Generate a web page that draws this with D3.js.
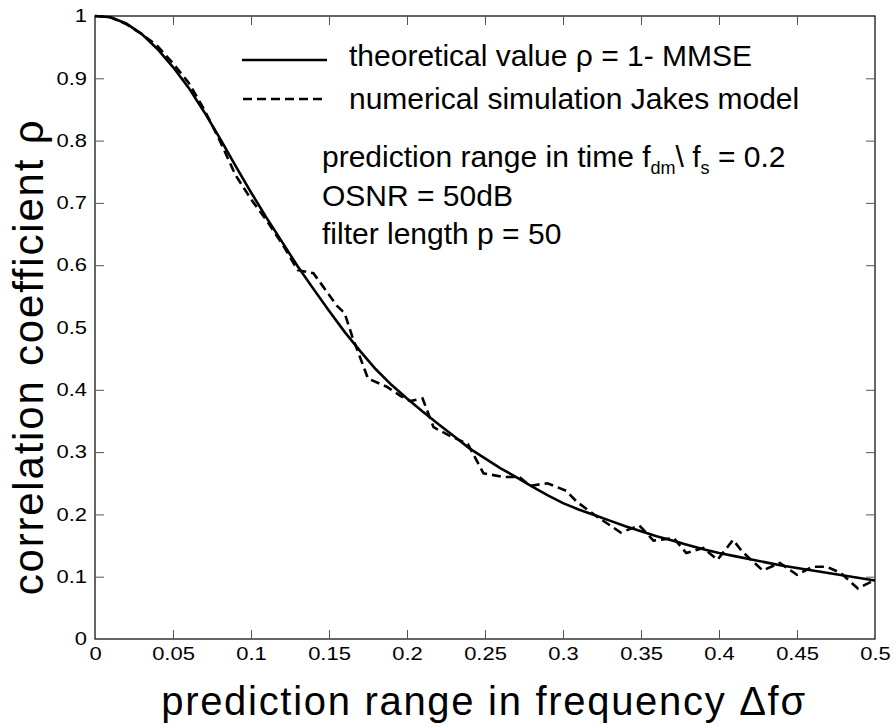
<!DOCTYPE html>
<html>
<head>
<meta charset="utf-8">
<script src="https://cdn.jsdelivr.net/npm/d3@7"></script>
<style>
  html, body { margin: 0; padding: 0; background: #fff; }
  svg { display: block; font-family: "Liberation Sans", Arial, Helvetica, sans-serif; }
</style>
</head>
<body>
<svg id="chart" width="896" height="727"></svg>
<script>
// ---- data ----
const theoryX = [0, 0.01, 0.02, 0.03, 0.04, 0.05, 0.06, 0.07, 0.08, 0.09, 0.1, 0.11, 0.12, 0.13, 0.14, 0.15, 0.16, 0.17, 0.18, 0.19, 0.2, 0.21, 0.22, 0.23, 0.24, 0.25, 0.26, 0.27, 0.28, 0.29, 0.3, 0.31, 0.32, 0.33, 0.34, 0.35, 0.36, 0.37, 0.38, 0.39, 0.4, 0.41, 0.42, 0.43, 0.44, 0.45, 0.46, 0.47, 0.48, 0.49, 0.5];
const theoryY = [1.0, 0.998, 0.988, 0.971, 0.947, 0.918, 0.885, 0.846, 0.804, 0.76, 0.717, 0.676, 0.637, 0.598, 0.562, 0.527, 0.493, 0.462, 0.433, 0.408, 0.386, 0.365, 0.345, 0.326, 0.306, 0.29, 0.274, 0.26, 0.245, 0.231, 0.218, 0.208, 0.199, 0.19, 0.181, 0.173, 0.165, 0.158, 0.151, 0.144, 0.138, 0.133, 0.128, 0.123, 0.118, 0.114, 0.11, 0.106, 0.102, 0.098, 0.094];

const simX = [0, 0.01, 0.02, 0.03, 0.04, 0.05, 0.06, 0.07, 0.08, 0.09, 0.1, 0.11, 0.12, 0.13, 0.14, 0.145, 0.155, 0.16, 0.165, 0.175, 0.187, 0.196, 0.202, 0.21, 0.217, 0.226, 0.239, 0.249, 0.262, 0.272, 0.279, 0.29, 0.302, 0.309, 0.322, 0.337, 0.349, 0.358, 0.371, 0.379, 0.39, 0.399, 0.409, 0.415, 0.428, 0.439, 0.45, 0.46, 0.469, 0.478, 0.489, 0.5];
const simY = [1.0, 0.998, 0.987, 0.971, 0.952, 0.924, 0.893, 0.85, 0.8, 0.745, 0.706, 0.672, 0.634, 0.592, 0.587, 0.57, 0.535, 0.523, 0.485, 0.418, 0.405, 0.39, 0.382, 0.386, 0.34, 0.328, 0.313, 0.266, 0.26, 0.26, 0.246, 0.25, 0.238, 0.22, 0.196, 0.171, 0.182, 0.158, 0.162, 0.138, 0.146, 0.127, 0.159, 0.14, 0.11, 0.122, 0.103, 0.116, 0.116, 0.106, 0.081, 0.095];

const xTicks = [0, 0.05, 0.1, 0.15, 0.2, 0.25, 0.3, 0.35, 0.4, 0.45, 0.5];
const xTickLabels = ["0", "0.05", "0.1", "0.15", "0.2", "0.25", "0.3", "0.35", "0.4", "0.45", "0.5"];
const yTicks = [0, 0.1, 0.2, 0.3, 0.4, 0.5, 0.6, 0.7, 0.8, 0.9, 1];
const yTickLabels = ["0", "0.1", "0.2", "0.3", "0.4", "0.5", "0.6", "0.7", "0.8", "0.9", "1"];

const legendLabels = ["theoretical value \u03C1 = 1- MMSE", "numerical simulation Jakes model"];
const xLabel = "prediction range in frequency \u0394f\u03C3";
const yLabel = "correlation coefficient \u03C1";

// ---- layout ----
const svg = d3.select("#chart");
const L = 95, R = 875, T = 16, B = 639;
const x = d3.scaleLinear().domain([0, 0.5]).range([L, R]);
const y = d3.scaleLinear().domain([0, 1]).range([B, T]);

const tickFont = 18;
const tickStretch = 1.22;

// frame
svg.append("rect").attr("x", L).attr("y", T).attr("width", R - L).attr("height", B - T)
  .attr("fill", "none").attr("stroke", "#000").attr("stroke-width", 1.2);

// axes (ticks inward on all sides)
const xb = svg.append("g").attr("transform", `translate(0,${B})`)
  .call(d3.axisBottom(x).tickValues(xTicks).tickSizeInner(-9).tickSizeOuter(0).tickPadding(8)
    .tickFormat((d, i) => xTickLabels[i]));
const xt = svg.append("g").attr("transform", `translate(0,${T})`)
  .call(d3.axisTop(x).tickValues(xTicks).tickSizeInner(-9).tickSizeOuter(0).tickFormat(""));
const yl = svg.append("g").attr("transform", `translate(${L},0)`)
  .call(d3.axisLeft(y).tickValues(yTicks).tickSizeInner(-9).tickSizeOuter(0).tickPadding(8)
    .tickFormat((d, i) => yTickLabels[i]));
const yr = svg.append("g").attr("transform", `translate(${R},0)`)
  .call(d3.axisRight(y).tickValues(yTicks).tickSizeInner(-9).tickSizeOuter(0).tickFormat(""));

[xb, xt, yl, yr].forEach(g => {
  g.select(".domain").remove();
  g.selectAll(".tick line").attr("stroke", "#555").attr("stroke-width", 1);
  g.selectAll(".tick line").filter(d => d === 0 || d === 1 || d === 0.5).remove();
  g.selectAll("text").attr("font-size", tickFont).attr("fill", "#000")
    .attr("font-family", "'Liberation Sans', Arial, sans-serif");
});
// horizontally widened tick labels, as in the reference
xb.selectAll(".tick text").attr("dy", "0.72em")
  .attr("transform", `scale(${tickStretch},1)`);
yl.selectAll(".tick text").attr("x", -8 / tickStretch)
  .attr("transform", `scale(${tickStretch},1)`);

// lines
const line = d3.line().x(d => x(d[0])).y(d => y(d[1]));
const theory = theoryX.map((v, i) => [v, theoryY[i]]);
const sim = simX.map((v, i) => [v, simY[i]]);

svg.append("path").datum(sim).attr("d", line).attr("fill", "none")
  .attr("stroke", "#000").attr("stroke-width", 2.6).attr("stroke-dasharray", "9,5");
svg.append("path").datum(theory).attr("d", line).attr("fill", "none")
  .attr("stroke", "#000").attr("stroke-width", 2.6);

// legend
const legY = [60, 99];
const legTextY = [66, 109];
svg.append("line").attr("x1", 242).attr("x2", 327).attr("y1", legY[0]).attr("y2", legY[0])
  .attr("stroke", "#000").attr("stroke-width", 2.6);
svg.append("line").attr("x1", 243).attr("x2", 327).attr("y1", legY[1]).attr("y2", legY[1])
  .attr("stroke", "#000").attr("stroke-width", 2.6).attr("stroke-dasharray", "9,5");
legendLabels.forEach((t, i) => {
  svg.append("text").attr("x", 349).attr("y", legTextY[i]).attr("font-size", 30).text(t);
});

// annotation
const ann = svg.append("g").attr("font-size", 30);
const a1 = ann.append("text").attr("x", 322).attr("y", 167);
a1.append("tspan").text("prediction range in time f");
a1.append("tspan").attr("font-size", 18).attr("dy", 7).text("dm");
a1.append("tspan").attr("dy", -7).text("\\ f");
a1.append("tspan").attr("font-size", 18).attr("dy", 7).text("s");
a1.append("tspan").attr("dy", -7).text(" = 0.2");
ann.append("text").attr("x", 322).attr("y", 206).text("OSNR = 50dB");
ann.append("text").attr("x", 322).attr("y", 244).text("filter length p = 50");

// axis labels
svg.append("text").attr("x", (L + R) / 2 - 1).attr("y", 715).attr("text-anchor", "middle")
  .attr("font-size", 40).attr("letter-spacing", 1.7).text(xLabel);
svg.append("text").attr("transform", `translate(43,357) rotate(-90)`)
  .attr("text-anchor", "middle").attr("font-size", 42).attr("letter-spacing", 1.8).text(yLabel);
</script>
</body>
</html>
